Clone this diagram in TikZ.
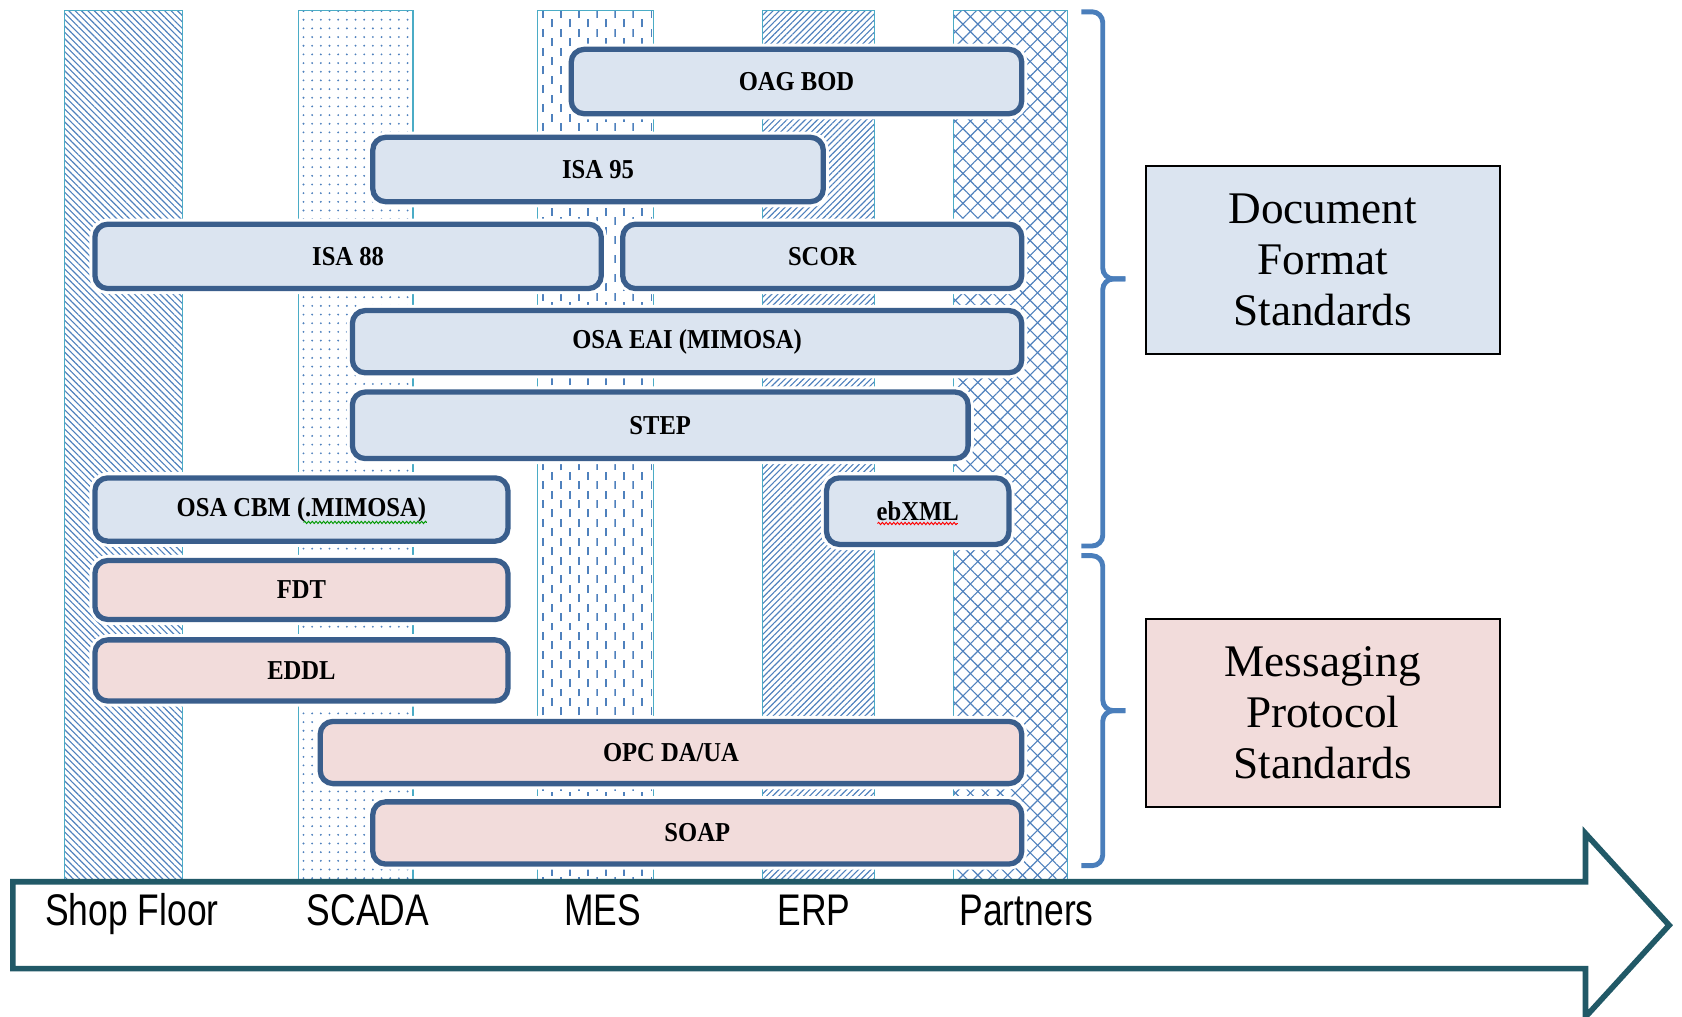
\documentclass[tikz,border=0pt]{standalone}
\usepackage{fontspec}
\setmainfont{Liberation Serif}
\newfontfamily\boxfont[FakeStretch=0.9]{Liberation Serif}
\newfontfamily\axisfont[FakeStretch=0.8]{Liberation Sans}
\usetikzlibrary{patterns.meta,decorations.pathmorphing}

\definecolor{docfill}{HTML}{DBE4F0}
\definecolor{msgfill}{HTML}{F2DCDB}
\definecolor{boxline}{HTML}{3A5E8C}
\definecolor{colline}{HTML}{4BACC6}
\definecolor{hatch}{HTML}{4F81BD}
\definecolor{bracecol}{HTML}{4A7EBB}
\definecolor{arrowcol}{HTML}{215967}

\tikzdeclarepattern{
  name=dashlines,
  type=uncolored,
  bounding box={(-0.5pt,0pt) and (5.3pt,9.2pt)},
  tile size={(9.6pt,10pt)},
  code={\draw[line width=1pt] (0,0) -- (0,4.2pt) (4.8pt,5pt) -- (4.8pt,9.2pt);}
}

\begin{document}
\begin{tikzpicture}

% definitions
\tikzstyle{level} = [draw=colline, line width=0.6pt, preaction={fill=white}, pattern color=hatch]

\tikzstyle{std} = [rectangle, rounded corners=0.24cm, minimum height=1.2cm, inner sep=0pt, draw=boxline, line width=2.8pt, preaction={draw=white, line width=6pt}, font=\boxfont\bfseries\fontsize{14.5}{16}\selectfont]

\tikzstyle{doc} = [std, fill=docfill]

\tikzstyle{msg} = [std, fill=msgfill]

\tikzstyle{group} = [rectangle, draw=black, line width=1pt, minimum width=6.6cm, minimum height=3.5cm, align=center, font=\fontsize{24}{27}\selectfont]

\tikzstyle{tier} = [anchor=base, inner sep=0pt, font=\axisfont\fontsize{23.5}{26}\selectfont]

\tikzstyle{bracket} = [draw=bracecol, line width=2.6pt, rounded corners=0.2cm]

\tikzstyle{squiggle} = [line width=0.5pt, decorate, decoration={snake, segment length=2pt, amplitude=0.6pt}]

\useasboundingbox (0,0) rectangle (31.36,-18.96);

% the tiers
\draw [level, pattern={Lines[angle=-45,distance=2.4pt,line width=0.6pt]}] (1.2,-0.2) rectangle (3.4,-16.44);
\draw [level, pattern={Dots[distance=4.6pt,radius=0.55pt]}] (5.56,-0.2) rectangle (7.7,-16.44);
\draw [level, pattern=dashlines] (10.02,-0.2) rectangle (12.18,-16.44);
\draw [level, pattern={Lines[angle=45,distance=2.3pt,line width=0.6pt]}] (14.22,-0.2) rectangle (16.3,-16.44);
\draw [level, pattern={Lines[angle=45,distance=5.6pt,line width=0.6pt]}, postaction={pattern={Lines[angle=-45,distance=5.6pt,line width=0.6pt]}, pattern color=hatch}] (17.78,-0.2) rectangle (19.9,-16.44);

% the standards
\node (oag) [doc, minimum width=8.4cm] at (14.85,-1.52) {OAG BOD};

\node (isa95) [doc, minimum width=8.4cm] at (11.15,-3.16) {ISA 95};

\node (isa88) [doc, minimum width=9.44cm] at (6.49,-4.78) {ISA 88};

\node (scor) [doc, minimum width=7.44cm] at (15.33,-4.78) {SCOR};

\node (eai) [doc, minimum width=12.48cm, minimum height=1.16cm] at (12.81,-6.37) {OSA EAI (MIMOSA)};

\node (step) [doc, minimum width=11.48cm, minimum height=1.24cm] at (12.31,-7.93) {STEP};

\node (cbm) [doc, minimum width=7.7cm, minimum height=1.18cm] at (5.62,-9.5) {OSA CBM (.MIMOSA)};

\node (ebxml) [doc, minimum width=3.4cm, minimum height=1.24cm] at (17.11,-9.53) {ebXML};

\node (fdt) [msg, minimum width=7.7cm, minimum height=1.1cm] at (5.62,-11.0) {FDT};

\node (eddl) [msg, minimum width=7.7cm, minimum height=1.14cm] at (5.62,-12.5) {EDDL};

\node (opc) [msg, minimum width=13.08cm, minimum height=1.16cm] at (12.51,-14.03) {OPC DA/UA};

\node (soap) [msg, minimum width=12.1cm, minimum height=1.16cm] at (13.0,-15.53) {SOAP};

\draw [squiggle, green!60!black] ([shift={(0.04,-0.24)}]cbm.center) -- ([shift={(2.34,-0.24)}]cbm.center);
\draw [squiggle, red] ([shift={(-0.75,-0.23)}]ebxml.center) -- ([shift={(0.75,-0.23)}]ebxml.center);

% the groups
\node (docstd) [group, fill=docfill] at (24.66,-4.85) {Document\\Format\\Standards};

\node (msgstd) [group, fill=msgfill] at (24.66,-13.29) {Messaging\\Protocol\\Standards};

\coordinate (doctip) at (20.98,-5.2);
\coordinate (msgtip) at (20.98,-13.25);

\draw [bracket] (20.16,-0.22) -| (20.56,-5.2) -- (doctip);
\draw [bracket] (20.16,-10.18) -| (20.56,-5.2) -- (doctip);
\draw [bracket] (20.16,-10.36) -| (20.56,-13.25) -- (msgtip);
\draw [bracket] (20.16,-16.14) -| (20.56,-13.25) -- (msgtip);

% the arrow
\draw [arrowcol, fill=white, line width=3pt] (0.24,-16.44) -- (29.56,-16.44) -- (29.56,-15.54) -- (31.12,-17.25) -- (29.56,-18.96) -- (29.56,-18.06) -- (0.24,-18.06) -- cycle;

\node (shop) [tier] at (2.46,-17.26) {Shop Floor};
\node (scada) [tier] at (6.86,-17.26) {SCADA};
\node (mes) [tier] at (11.24,-17.26) {MES};
\node (erp) [tier] at (15.18,-17.26) {ERP};
\node (partners) [tier] at (19.14,-17.26) {Partners};

\end{tikzpicture}
\end{document}
